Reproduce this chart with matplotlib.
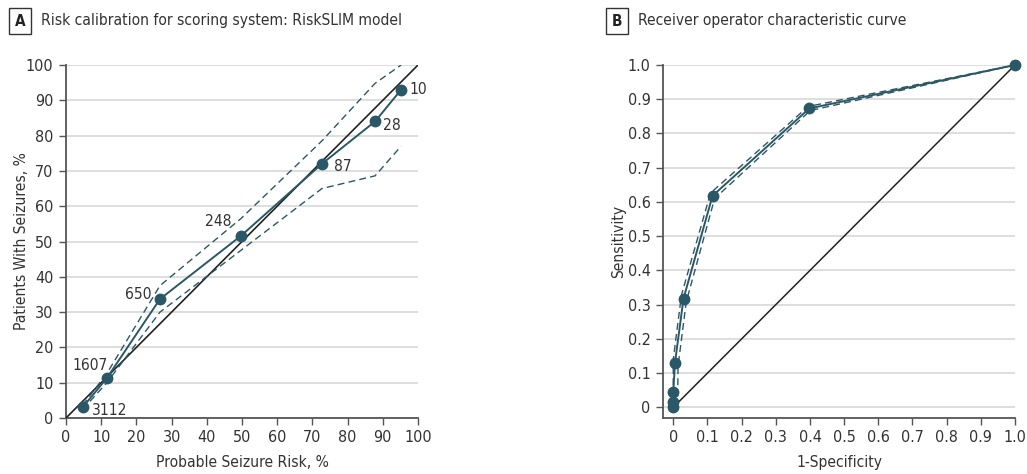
import matplotlib
matplotlib.use("Agg")
import matplotlib.pyplot as plt

plt.rcParams['font.family'] = ['DejaVu Sans']
plt.rcParams['font.stretch'] = 'condensed'

# Panel A: calibration
pred_risk = [4.7, 11.6, 26.7, 49.7, 72.7, 87.8, 95.2]
obs_rate = [3.0, 11.3, 33.7, 51.6, 72.0, 84.0, 93.0]
ci_upper = [3.6, 12.6, 37.5, 56.5, 78.5, 94.8, 100.0]
ci_lower = [2.4, 10.0, 30.0, 47.5, 65.0, 68.6, 77.0]
counts = ["3112", "1607", "650", "248", "87", "28", "10"]

# Panel B: ROC
fpr = [0.0, 0.0, 0.0, 0.005, 0.03, 0.115, 0.398, 1.0]
tpr = [0.0, 0.016, 0.044, 0.13, 0.318, 0.618, 0.873, 1.0]
fpr_up = [0.0, 0.0, 0.0, 0.0, 0.024, 0.109, 0.395, 1.0]
tpr_up = [0.0, 0.02, 0.05, 0.14, 0.328, 0.626, 0.879, 1.0]
fpr_lo = [0.011, 0.012, 0.013, 0.014, 0.038, 0.121, 0.401, 1.0]
tpr_lo = [0.0, 0.01, 0.03, 0.12, 0.308, 0.61, 0.867, 1.0]

teal = '#2b5866'
grid_c = '#dedede'
spine_c = '#555555'
txt_c = '#333333'

fig = plt.figure(figsize=(10.27, 4.74), dpi=100)
axA = fig.add_axes([66/1027, 1-418/474, 352/1027, 353/474])
axB = fig.add_axes([663/1027, 1-418/474, 352/1027, 353/474])


def style(ax):
    for s in ['top', 'right']:
        ax.spines[s].set_visible(False)
    for s in ['left', 'bottom']:
        ax.spines[s].set_color(spine_c)
        ax.spines[s].set_linewidth(1.3)
    ax.tick_params(direction='out', length=5, width=1, color=spine_c,
                   labelsize=11.5, labelcolor=txt_c, pad=4)
    ax.grid(axis='y', color=grid_c, linewidth=1.4)
    ax.set_axisbelow(True)


def labels(ax, xl, yl):
    ax.set_xlabel(xl, fontsize=11.2, color=txt_c, va='center')
    ax.set_ylabel(yl, fontsize=11.2, color=txt_c, va='center')
    ax.xaxis.set_label_coords(0.5, -0.125)
    ax.yaxis.set_label_coords(-0.125, 0.5)


# ---- Panel A
style(axA)
axA.plot([0, 100], [0, 100], color='#222222', lw=1.2, zorder=3)
axA.plot(pred_risk, ci_upper, ls=(0, (5, 3)), color=teal, lw=1, zorder=3)
axA.plot(pred_risk, ci_lower, ls=(0, (5, 3)), color=teal, lw=1, zorder=3)
axA.plot(pred_risk, obs_rate, '-o', color=teal, lw=1.4, ms=7.5, zorder=4,
         clip_on=False)
offsets = [(7, -2), (1, 9), (-6, 3), (-7, 10), (9, -2), (6, -3), (6, 0)]
aligns = ['left', 'right', 'right', 'right', 'left', 'left', 'left']
for x, y, c, off, ha in zip(pred_risk, obs_rate, counts, offsets, aligns):
    axA.annotate(c, (x, y), xytext=off, textcoords='offset points',
                 fontsize=11.2, color=txt_c, va='center', ha=ha)
axA.set_xlim(0, 100)
axA.set_ylim(0, 100)
axA.set_xticks(range(0, 101, 10))
axA.set_yticks(range(0, 101, 10))
labels(axA, 'Probable Seizure Risk, %', 'Patients With Seizures, %')

# ---- Panel B
style(axB)
axB.plot([0, 1], [0, 1], color='#222222', lw=1.1, zorder=3)
axB.plot(fpr_up, tpr_up, ls=(0, (5, 3)), color=teal, lw=1, zorder=3)
axB.plot(fpr_lo, tpr_lo, ls=(0, (5, 3)), color=teal, lw=1, zorder=3)
axB.plot(fpr, tpr, '-o', color=teal, lw=1.4, ms=7.5, zorder=4, clip_on=False)
axB.set_xlim(-0.03, 1.0)
axB.set_ylim(-0.031, 1.0)
xt = [i / 10 for i in range(11)]
axB.set_xticks(xt)
axB.set_xticklabels(['0'] + ['%.1f' % v for v in xt[1:]])
axB.set_yticks(xt)
axB.set_yticklabels(['0'] + ['%.1f' % v for v in xt[1:]])
labels(axB, '1-Specificity', 'Sensitivity')

# ---- Panel titles
for letter, bx, title in [('A', 8, 'Risk calibration for scoring system: RiskSLIM model'),
                          ('B', 605, 'Receiver operator characteristic curve')]:
    fig.text((bx + 12) / 1027, 1 - 21 / 474, letter, fontsize=11, fontweight='bold',
             color='#222222', ha='center', va='center',
             bbox=dict(boxstyle='square,pad=0.35', fc='white', ec='#333333', lw=1))
    fig.text((bx + 33) / 1027, 1 - 20.5 / 474, title, fontsize=11.2, color=txt_c,
             ha='left', va='center')

fig.savefig('out.png', dpi=100)
